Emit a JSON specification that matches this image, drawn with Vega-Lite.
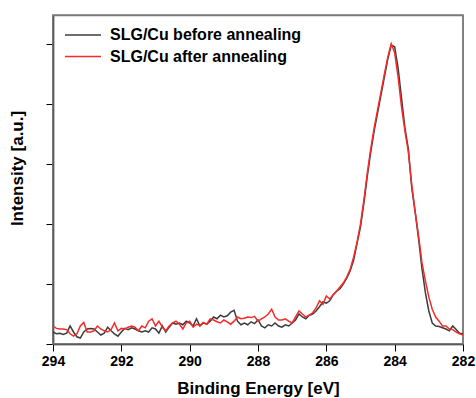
{
  "$schema": "https://vega.github.io/schema/vega-lite/v6.json",
  "autosize": "none",
  "width": 410,
  "height": 329,
  "padding": {"left": 53, "top": 15, "right": 13, "bottom": 54},
  "background": "white",
  "config": {
    "view": {"stroke": "#808080", "strokeWidth": 1.5},
    "font": "Liberation Sans"
  },
  "datasets": {
    "frame": [{"x1": 294, "x2": 282, "y1": 0, "y2": 5.47}],
    "before": [
      {"e":294.0,"v":0.20},{"e":293.9,"v":0.17},{"e":293.8,"v":0.18},{"e":293.7,"v":0.16},{"e":293.6,"v":0.18},{"e":293.5,"v":0.3},{"e":293.4,"v":0.2},{"e":293.3,"v":0.12},{"e":293.2,"v":0.1},{"e":293.1,"v":0.2},
      {"e":293.0,"v":0.25},{"e":292.9,"v":0.26},{"e":292.8,"v":0.25},{"e":292.7,"v":0.2},{"e":292.6,"v":0.15},{"e":292.5,"v":0.18},{"e":292.4,"v":0.28},{"e":292.3,"v":0.22},{"e":292.2,"v":0.17},{"e":292.1,"v":0.13},
      {"e":292.0,"v":0.2},{"e":291.9,"v":0.26},{"e":291.8,"v":0.24},{"e":291.7,"v":0.27},{"e":291.6,"v":0.25},{"e":291.5,"v":0.22},{"e":291.4,"v":0.2},{"e":291.3,"v":0.22},{"e":291.2,"v":0.2},{"e":291.1,"v":0.27},
      {"e":291.0,"v":0.25},{"e":290.9,"v":0.18},{"e":290.8,"v":0.3},{"e":290.7,"v":0.2},{"e":290.6,"v":0.28},{"e":290.5,"v":0.35},{"e":290.4,"v":0.33},{"e":290.3,"v":0.35},{"e":290.2,"v":0.32},{"e":290.1,"v":0.38},
      {"e":290.0,"v":0.35},{"e":289.9,"v":0.3},{"e":289.8,"v":0.42},{"e":289.7,"v":0.3},{"e":289.6,"v":0.35},{"e":289.5,"v":0.33},{"e":289.4,"v":0.38},{"e":289.3,"v":0.45},{"e":289.2,"v":0.42},{"e":289.1,"v":0.48},
      {"e":289.0,"v":0.45},{"e":288.9,"v":0.47},{"e":288.8,"v":0.53},{"e":288.7,"v":0.56},{"e":288.6,"v":0.38},{"e":288.5,"v":0.32},{"e":288.4,"v":0.35},{"e":288.3,"v":0.32},{"e":288.2,"v":0.37},{"e":288.1,"v":0.34},
      {"e":288.0,"v":0.4},{"e":287.9,"v":0.3},{"e":287.8,"v":0.27},{"e":287.7,"v":0.32},{"e":287.6,"v":0.3},{"e":287.5,"v":0.35},{"e":287.4,"v":0.3},{"e":287.3,"v":0.28},{"e":287.2,"v":0.32},{"e":287.1,"v":0.3},
      {"e":287.0,"v":0.35},{"e":286.9,"v":0.4},{"e":286.8,"v":0.5},{"e":286.7,"v":0.45},{"e":286.6,"v":0.42},{"e":286.5,"v":0.48},{"e":286.4,"v":0.5},{"e":286.3,"v":0.55},{"e":286.2,"v":0.62},{"e":286.1,"v":0.7},
      {"e":286.0,"v":0.68},{"e":285.9,"v":0.72},{"e":285.8,"v":0.82},{"e":285.7,"v":0.88},{"e":285.6,"v":0.92},{"e":285.5,"v":1.0},{"e":285.4,"v":1.1},{"e":285.3,"v":1.22},{"e":285.2,"v":1.4},{"e":285.1,"v":1.68},
      {"e":285.0,"v":1.95},{"e":284.9,"v":2.35},{"e":284.8,"v":2.8},{"e":284.7,"v":3.2},{"e":284.6,"v":3.55},{"e":284.5,"v":3.85},{"e":284.4,"v":4.15},{"e":284.3,"v":4.45},{"e":284.2,"v":4.75},{"e":284.1,"v":4.98},
      {"e":284.0,"v":4.95},{"e":283.9,"v":4.6},{"e":283.8,"v":4.1},{"e":283.7,"v":3.6},{"e":283.6,"v":3.25},{"e":283.5,"v":2.6},{"e":283.4,"v":2.2},{"e":283.3,"v":1.75},{"e":283.2,"v":1.25},{"e":283.1,"v":0.85},
      {"e":283.0,"v":0.55},{"e":282.9,"v":0.35},{"e":282.8,"v":0.3},{"e":282.7,"v":0.29},{"e":282.6,"v":0.27},{"e":282.5,"v":0.25},{"e":282.4,"v":0.22},{"e":282.3,"v":0.3},{"e":282.2,"v":0.24},{"e":282.1,"v":0.18},
      {"e":282.0,"v":0.17}
    ],
    "after": [
      {"e":294.0,"v":0.30},{"e":293.9,"v":0.26},{"e":293.8,"v":0.25},{"e":293.7,"v":0.25},{"e":293.6,"v":0.24},{"e":293.5,"v":0.17},{"e":293.4,"v":0.13},{"e":293.3,"v":0.17},{"e":293.2,"v":0.3},{"e":293.1,"v":0.36},
      {"e":293.0,"v":0.2},{"e":292.9,"v":0.2},{"e":292.8,"v":0.22},{"e":292.7,"v":0.3},{"e":292.6,"v":0.25},{"e":292.5,"v":0.22},{"e":292.4,"v":0.2},{"e":292.3,"v":0.24},{"e":292.2,"v":0.35},{"e":292.1,"v":0.22},
      {"e":292.0,"v":0.26},{"e":291.9,"v":0.25},{"e":291.8,"v":0.28},{"e":291.7,"v":0.3},{"e":291.6,"v":0.28},{"e":291.5,"v":0.22},{"e":291.4,"v":0.3},{"e":291.3,"v":0.27},{"e":291.2,"v":0.38},{"e":291.1,"v":0.42},
      {"e":291.0,"v":0.3},{"e":290.9,"v":0.38},{"e":290.8,"v":0.28},{"e":290.7,"v":0.22},{"e":290.6,"v":0.3},{"e":290.5,"v":0.35},{"e":290.4,"v":0.38},{"e":290.3,"v":0.33},{"e":290.2,"v":0.25},{"e":290.1,"v":0.35},
      {"e":290.0,"v":0.38},{"e":289.9,"v":0.28},{"e":289.8,"v":0.33},{"e":289.7,"v":0.31},{"e":289.6,"v":0.36},{"e":289.5,"v":0.33},{"e":289.4,"v":0.42},{"e":289.3,"v":0.4},{"e":289.2,"v":0.37},{"e":289.1,"v":0.35},
      {"e":289.0,"v":0.4},{"e":288.9,"v":0.37},{"e":288.8,"v":0.33},{"e":288.7,"v":0.38},{"e":288.6,"v":0.45},{"e":288.5,"v":0.42},{"e":288.4,"v":0.43},{"e":288.3,"v":0.45},{"e":288.2,"v":0.44},{"e":288.1,"v":0.46},
      {"e":288.0,"v":0.38},{"e":287.9,"v":0.42},{"e":287.8,"v":0.45},{"e":287.7,"v":0.5},{"e":287.6,"v":0.58},{"e":287.5,"v":0.45},{"e":287.4,"v":0.4},{"e":287.3,"v":0.4},{"e":287.2,"v":0.42},{"e":287.1,"v":0.38},
      {"e":287.0,"v":0.35},{"e":286.9,"v":0.45},{"e":286.8,"v":0.55},{"e":286.7,"v":0.5},{"e":286.6,"v":0.45},{"e":286.5,"v":0.48},{"e":286.4,"v":0.52},{"e":286.3,"v":0.6},{"e":286.2,"v":0.72},{"e":286.1,"v":0.66},
      {"e":286.0,"v":0.8},{"e":285.9,"v":0.75},{"e":285.8,"v":0.82},{"e":285.7,"v":0.88},{"e":285.6,"v":0.95},{"e":285.5,"v":1.02},{"e":285.4,"v":1.12},{"e":285.3,"v":1.25},{"e":285.2,"v":1.45},{"e":285.1,"v":1.7},
      {"e":285.0,"v":2.0},{"e":284.9,"v":2.4},{"e":284.8,"v":2.85},{"e":284.7,"v":3.25},{"e":284.6,"v":3.6},{"e":284.5,"v":3.9},{"e":284.4,"v":4.2},{"e":284.3,"v":4.5},{"e":284.2,"v":4.78},{"e":284.1,"v":5.0},
      {"e":284.0,"v":4.85},{"e":283.9,"v":4.45},{"e":283.8,"v":3.95},{"e":283.7,"v":3.55},{"e":283.6,"v":3.2},{"e":283.5,"v":2.65},{"e":283.4,"v":2.2},{"e":283.3,"v":1.8},{"e":283.2,"v":1.35},{"e":283.1,"v":1.05},
      {"e":283.0,"v":0.78},{"e":282.9,"v":0.58},{"e":282.8,"v":0.45},{"e":282.7,"v":0.38},{"e":282.6,"v":0.3},{"e":282.5,"v":0.3},{"e":282.4,"v":0.25},{"e":282.3,"v":0.24},{"e":282.2,"v":0.2},{"e":282.1,"v":0.17},
      {"e":282.0,"v":0.15}
    ]
  },
  "layer": [
    {
      "data": {"name": "frame"},
      "mark": {"type": "rect", "fill": "transparent", "stroke": "#7a7a7a", "strokeWidth": 1.5},
      "encoding": {
        "x": {"field": "x1", "type": "quantitative"},
        "x2": {"field": "x2"},
        "y": {"field": "y1", "type": "quantitative"},
        "y2": {"field": "y2"}
      }
    },
    {
      "data": {"name": "before"},
      "transform": [{"calculate": "'SLG/Cu before annealing'", "as": "s"}],
      "mark": {"type": "line", "strokeWidth": 1.5},
      "encoding": {
        "x": {"field": "e", "type": "quantitative", "scale": {"domain": [282, 294], "reverse": true, "nice": false, "zero": false},
          "axis": {"title": "Binding Energy [eV]", "values": [282,283,284,285,286,287,288,289,290,291,292,293,294],
            "labelExpr": "datum.value % 2 === 0 ? datum.label : ''", "labelFlush": false, "labelOverlap": false,
            "tickSize": {"condition": {"test": "datum.value % 2 === 0", "value": 7}, "value": 4},
            "tickColor": "#000", "domainColor": "#000", "domainWidth": 1.5, "tickWidth": 1,
            "labelFont": "Liberation Sans", "labelFontWeight": "bold", "labelFontSize": 14, "labelColor": "#000", "labelPadding": 3,
            "titleFont": "Liberation Sans", "titleFontWeight": "bold", "titleFontSize": 17, "titleColor": "#000", "titlePadding": 12, "grid": false}},
        "y": {"field": "v", "type": "quantitative", "scale": {"domain": [0, 5.48], "nice": false},
          "axis": {"title": "Intensity [a.u.]", "values": [0,0.5,1,1.5,2,2.5,3,3.5,4,4.5,5],
            "labels": false,
            "tickSize": {"condition": {"test": "datum.value % 1 === 0", "value": 7}, "value": 4},
            "tickColor": "#000", "domainColor": "#000", "domainWidth": 1.5, "tickWidth": 1,
            "titleFont": "Liberation Sans", "titleFontWeight": "bold", "titleFontSize": 17, "titleColor": "#000", "titlePadding": 19, "titleY": 153, "grid": false}},
        "color": {"field": "s", "type": "nominal",
          "scale": {"domain": ["SLG/Cu before annealing", "SLG/Cu after annealing"], "range": ["#3c3c3c", "#f52a2a"]},
          "legend": {"title": null, "orient": "none", "legendX": 19, "legendY": 9, "padding": 0,
            "symbolType": "M-1.8,0H1.8", "symbolSize": 400, "symbolStrokeWidth": 1.5, "labelFont": "Liberation Sans", "labelFontWeight": "bold", "labelFontSize": 16, "labelColor": "#000",
            "labelOffset": 16, "rowPadding": 2.5, "labelLimit": 400}}
      }
    },
    {
      "data": {"name": "after"},
      "transform": [{"calculate": "'SLG/Cu after annealing'", "as": "s"}],
      "mark": {"type": "line", "strokeWidth": 1.5},
      "encoding": {
        "x": {"field": "e", "type": "quantitative"},
        "y": {"field": "v", "type": "quantitative"},
        "color": {"field": "s", "type": "nominal"}
      }
    }
  ]
}
